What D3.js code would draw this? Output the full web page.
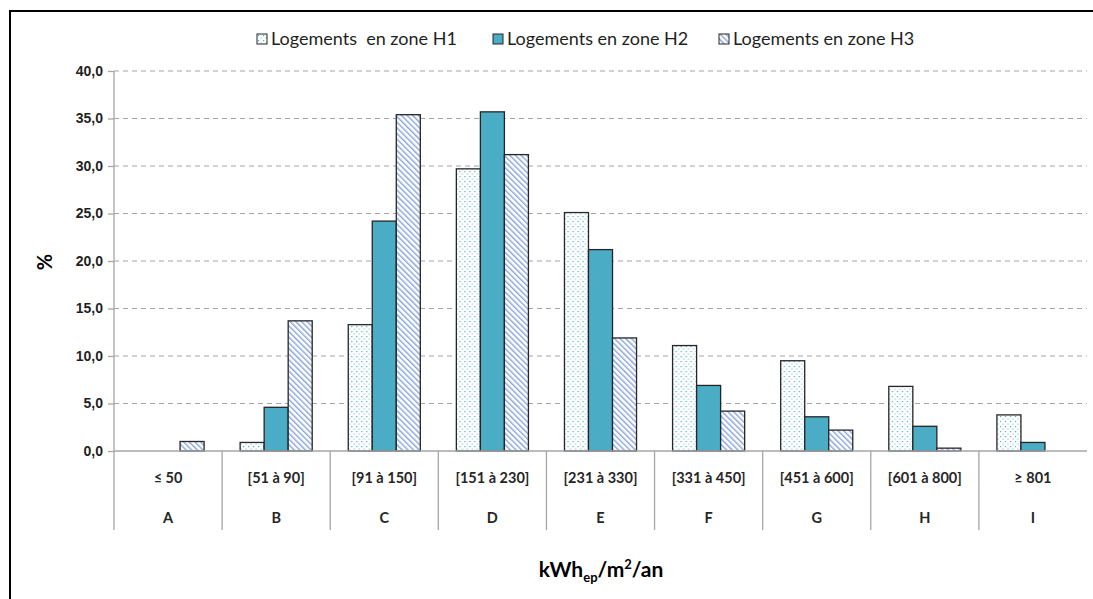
<!DOCTYPE html>
<meta charset="utf-8">
<style>
    body { margin: 0; background: #fff; }
    svg { font-family: Lato, "Open Sans", sans-serif; }
    .grid line { stroke: #a6a6a6; stroke-dasharray: 5, 4; stroke-width: 1.2; }
    .y.axis path, .y.axis line { stroke: #a6a6a6; stroke-width: 1.3; }
    .y.axis text { font-size: 14px; font-weight: bold; fill: #1f1f1f; }
    .bar { stroke: #262626; stroke-width: 1.3; }
    .sep { stroke: #a6a6a6; stroke-width: 1.3; }
    .cat text { font-size: 14.5px; font-weight: bold; fill: #262626; }
    .legend text { font-size: 18px; fill: #1f1f1f; white-space: pre; }
</style>
<body>
<script src="https://cdn.jsdelivr.net/npm/d3@7"></script>
<script>

    var ranges = ["\u2264 50", "[51 \u00e0 90]", "[91 \u00e0 150]", "[151 \u00e0 230]", "[231 \u00e0 330]",
                  "[331 \u00e0 450]", "[451 \u00e0 600]", "[601 \u00e0 800]", "\u2265 801"];
    var letters = ["A", "B", "C", "D", "E", "F", "G", "H", "I"];
    var seriesNames = ["Logements  en zone H1", "Logements en zone H2", "Logements en zone H3"];
    var h1 = [0, 0.9, 13.3, 29.7, 25.1, 11.1, 9.5, 6.8, 3.8];
    var h2 = [0, 4.6, 24.2, 35.7, 21.2, 6.9, 3.6, 2.6, 0.9];
    var h3 = [1.0, 13.7, 35.4, 31.2, 11.9, 4.2, 2.2, 0.3, 0];
    var yTicks = [0, 5, 10, 15, 20, 25, 30, 35, 40];

    var W = 1093, H = 599;
    var mLeft = 114, mRight = 1087, mTop = 71, mBottom = 451;

    var svg = d3.select("body").append("svg")
        .attr("width", W).attr("height", H);

    // patterns
    var defs = svg.append("defs");
    var dots = defs.append("pattern")
        .attr("id", "dots").attr("patternUnits", "userSpaceOnUse")
        .attr("width", 5).attr("height", 5);
    dots.append("rect").attr("width", 5).attr("height", 5).attr("fill", "#fff");
    dots.append("rect").attr("x", 1).attr("y", 1).attr("width", 1.2).attr("height", 1.2).attr("fill", "#4eaac8");
    dots.append("rect").attr("x", 3.5).attr("y", 3.5).attr("width", 1.2).attr("height", 1.2).attr("fill", "#8cc8dc");

    var hatch = defs.append("pattern")
        .attr("id", "hatch").attr("patternUnits", "userSpaceOnUse")
        .attr("width", 4).attr("height", 4)
        .attr("patternTransform", "rotate(-45)");
    hatch.append("rect").attr("width", 4).attr("height", 4).attr("fill", "#fff");
    hatch.append("rect").attr("x", 0).attr("y", 0).attr("width", 1.4).attr("height", 4).attr("fill", "#86a3da");

    var fills = ["url(#dots)", "#4bacc6", "url(#hatch)"];

    // frame
    svg.append("path")
        .attr("d", "M10,600 V11 H1093")
        .attr("fill", "none").attr("stroke", "#000").attr("stroke-width", 2);

    var x0 = d3.scaleBand().domain(letters).range([mLeft, mRight]);
    var x1 = d3.scaleBand().domain([0, 1, 2]).range([0, x0.bandwidth()]).paddingOuter(0.75).paddingInner(0);
    var y = d3.scaleLinear().domain([0, 40]).range([mBottom, mTop]);

    // gridlines
    svg.append("g").attr("class", "grid")
        .selectAll("line").data(yTicks.filter(function(d) { return d > 0; }))
        .join("line")
        .attr("x1", mLeft).attr("x2", mRight)
        .attr("y1", function(d) { return y(d); }).attr("y2", function(d) { return y(d); });

    // y axis
    svg.append("g").attr("class", "y axis")
        .attr("transform", "translate(" + mLeft + ",0)")
        .call(d3.axisLeft(y).tickValues(yTicks).tickSize(6).tickSizeOuter(0).tickPadding(5)
            .tickFormat(function(d) { return d3.format(".1f")(d).replace(".", ","); }))
        .call(function(g) { g.select(".domain").attr("d", "M0," + y(40) + "V" + y(0)); });

    // bars
    var data = letters.map(function(l, i) {
        return [h1[i], h2[i], h3[i]].map(function(v, j) { return {v: v, s: j}; });
    });
    var groups = svg.append("g").selectAll("g").data(data).join("g")
        .attr("transform", function(d, i) { return "translate(" + x0(letters[i]) + ",0)"; });
    groups.selectAll("rect")
        .data(function(d) { return d.filter(function(e) { return e.v > 0; }); })
        .join("rect")
        .attr("class", "bar")
        .attr("x", function(d) { return x1(d.s); })
        .attr("width", x1.bandwidth())
        .attr("y", function(d) { return y(d.v); })
        .attr("height", function(d) { return y(0) - y(d.v); })
        .attr("fill", function(d) { return fills[d.s]; });

    // x baseline
    svg.append("line").attr("class", "sep")
        .attr("x1", mLeft).attr("x2", mRight).attr("y1", mBottom).attr("y2", mBottom);

    // category table
    var cat = svg.append("g").attr("class", "cat");
    cat.selectAll("line").data(letters).join("line")
        .attr("class", "sep")
        .attr("x1", function(d) { return x0(d); })
        .attr("x2", function(d) { return x0(d); })
        .attr("y1", mBottom).attr("y2", 530);
    cat.selectAll("text.r").data(ranges).join("text").attr("class", "r")
        .attr("x", function(d, i) { return x0(letters[i]) + x0.bandwidth() / 2; })
        .attr("y", 483).attr("text-anchor", "middle").text(function(d) { return d; });
    cat.selectAll("text.l").data(letters).join("text").attr("class", "l")
        .attr("x", function(d) { return x0(d) + x0.bandwidth() / 2; })
        .attr("y", 523).attr("text-anchor", "middle").text(function(d) { return d; });

    // axis titles
    svg.append("text")
        .attr("transform", "translate(52,262) rotate(-90)")
        .attr("text-anchor", "middle")
        .style("font-size", "20px").style("font-weight", "bold").style("fill", "#000")
        .text("%");

    var xt = svg.append("text")
        .attr("x", 601).attr("y", 577).attr("text-anchor", "middle")
        .style("font-size", "21px").style("font-weight", "bold").style("fill", "#000");
    xt.append("tspan").text("kWh");
    xt.append("tspan").attr("dy", 5).style("font-size", "13px").text("ep");
    xt.append("tspan").attr("dy", -5).text("/m");
    xt.append("tspan").attr("dy", -8).style("font-size", "13px").text("2");
    xt.append("tspan").attr("dy", 8).text("/an");

    // legend
    var legX = [257, 493, 719];
    var leg = svg.append("g").attr("class", "legend")
        .selectAll("g").data(seriesNames).join("g")
        .attr("transform", function(d, i) { return "translate(" + legX[i] + ",34)"; });
    leg.append("rect").attr("width", 10).attr("height", 10)
        .attr("fill", function(d, i) { return fills[i]; })
        .attr("stroke", "#262626").attr("stroke-width", 1);
    leg.append("text").attr("x", 14).attr("y", 11).text(function(d) { return d; });

</script>
</body>
